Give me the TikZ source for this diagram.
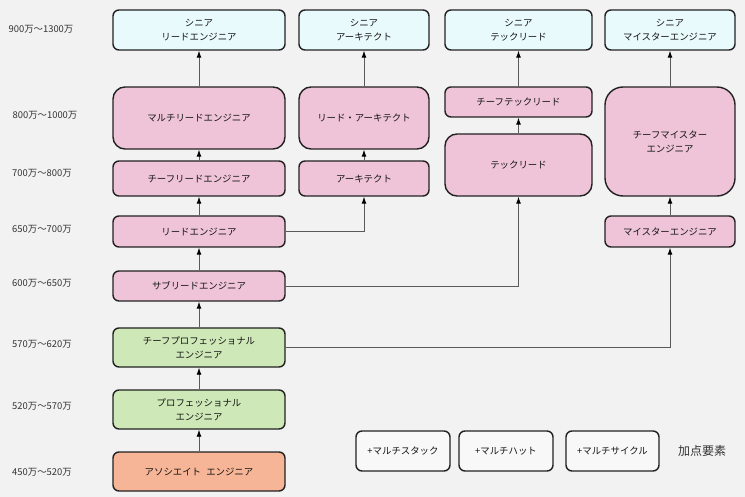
\documentclass[tikz,border=0pt]{standalone}
\usepackage{fontspec}
\setmainfont{Noto Sans CJK JP}
\usepackage{xcolor}
\usepackage{tikz}
\usetikzlibrary{arrows.meta, positioning}
\definecolor{bgc}{RGB}{242,242,242}
\definecolor{seniorc}{RGB}{233,250,253}
\definecolor{pinkc}{RGB}{239,196,216}
\definecolor{greenc}{RGB}{206,232,183}
\definecolor{assocc}{RGB}{245,181,150}
\definecolor{plusc}{RGB}{248,248,248}
\definecolor{edgec}{RGB}{34,34,34}
\definecolor{linec}{RGB}{90,90,90}

\begin{document}
\begin{tikzpicture}[x=1pt, y=-1pt,
    role/.style={draw=edgec, line width=1.4pt, rounded corners=6pt,
      align=center, inner sep=0pt, font=\fontsize{9.4}{14}\selectfont,
      text=black!92},
    senior/.style={role, fill=seniorc},
    lead/.style={role, fill=pinkc},
    pro/.style={role, fill=greenc},
    plus/.style={role, fill=plusc, minimum width=94pt, minimum height=40pt},
    pay/.style={font=\fontsize{9.4}{11}\selectfont, text=black!80},
    up/.style={-{Latex[length=7pt, width=5pt, black]}, draw=linec, line width=0.9pt}]
  \useasboundingbox[fill=bgc] (0,0) rectangle (745,497);
  % salary bands
  \node[pay] (p900) at (41,29) {900万〜1300万};
  \node[pay] (p800) at (45,115) {800万〜1000万};
  \node[pay] (p700) at (42,173) {700万〜800万};
  \node[pay] (p650) at (42,229) {650万〜700万};
  \node[pay] (p600) at (42,283) {600万〜650万};
  \node[pay] (p570) at (42,344) {570万〜620万};
  \node[pay] (p520) at (42,406) {520万〜570万};
  \node[pay] (p450) at (42,472) {450万〜520万};
  % engineer column
  \node[senior, minimum width=172pt, minimum height=40pt] (sle) at (199,30) {シニア\\リードエンジニア};
  \node[lead, minimum width=172pt, minimum height=62pt, rounded corners=12pt] (mle) at (199,118) {マルチリードエンジニア};
  \node[lead, minimum width=172pt, minimum height=35pt] (cle) at (199,178.5) {チーフリードエンジニア};
  \node[lead, minimum width=172pt, minimum height=31pt] (le) at (199,231.5) {リードエンジニア};
  \node[lead, minimum width=172pt, minimum height=30pt] (sub) at (199,286) {サブリードエンジニア};
  \node[pro, minimum width=172pt, minimum height=39pt] (cpe) at (199,347.5) {チーフプロフェッショナル\\エンジニア};
  \node[pro, minimum width=172pt, minimum height=39pt] (pe) at (199,409.5) {プロフェッショナル\\エンジニア};
  \node[role, fill=assocc, minimum width=172pt, minimum height=39pt] (ae) at (199,471.5) {アソシエイト\hspace{0.55em}エンジニア};
  % architect column
  \node[senior, minimum width=130pt, minimum height=40pt] (sa) at (364,30) {シニア\\アーキテクト};
  \node[lead, minimum width=130pt, minimum height=62pt, rounded corners=12pt] (la) at (364,118) {リード・アーキテクト};
  \node[lead, minimum width=130pt, minimum height=35pt] (ar) at (364,178.5) {アーキテクト};
  % tech lead column
  \node[senior, minimum width=147pt, minimum height=40pt] (stl) at (518.5,30) {シニア\\テックリード};
  \node[lead, minimum width=147pt, minimum height=30pt] (ctl) at (518.5,102) {チーフテックリード};
  \node[lead, minimum width=147pt, minimum height=62pt, rounded corners=12pt] (tl) at (518.5,165) {テックリード};
  % meister column
  \node[senior, minimum width=130pt, minimum height=40pt] (sme) at (670,30) {シニア\\マイスターエンジニア};
  \node[lead, minimum width=130pt, minimum height=109pt, rounded corners=18pt] (cme) at (670,141.5) {チーフマイスター\\エンジニア};
  \node[lead, minimum width=130pt, minimum height=31pt] (me) at (670,231.5) {マイスターエンジニア};
  % bonus skills
  \node[plus] (mstack) at (403,451) {+マルチスタック};
  \node[plus] (mhat) at (506,451) {+マルチハット};
  \node[plus, minimum width=93pt] (mcycle) at (612.5,451) {+マルチサイクル};
  \node[font=\fontsize{12}{14}\selectfont, text=black!80] (bonus) at (702,451) {加点要素};
  % promotions
  \draw[up] (ae) -- (pe);
  \draw[up] (pe) -- (cpe);
  \draw[up] (cpe) -- (sub);
  \draw[up] (sub) -- (le);
  \draw[up] (le) -- (cle);
  \draw[up] (cle) -- (mle);
  \draw[up] (mle) -- (sle);
  \draw[up] (ar) -- (la);
  \draw[up] (la) -- (sa);
  \draw[up] (tl) -- (ctl);
  \draw[up] (ctl) -- (stl);
  \draw[up] (me) -- (cme);
  \draw[up] (cme) -- (sme);
  \draw[up] (le.east) -| (ar.south);
  \draw[up] (sub.east) -| (tl.south);
  \draw[up] (cpe.east) -| (me.south);
\end{tikzpicture}
\end{document}
